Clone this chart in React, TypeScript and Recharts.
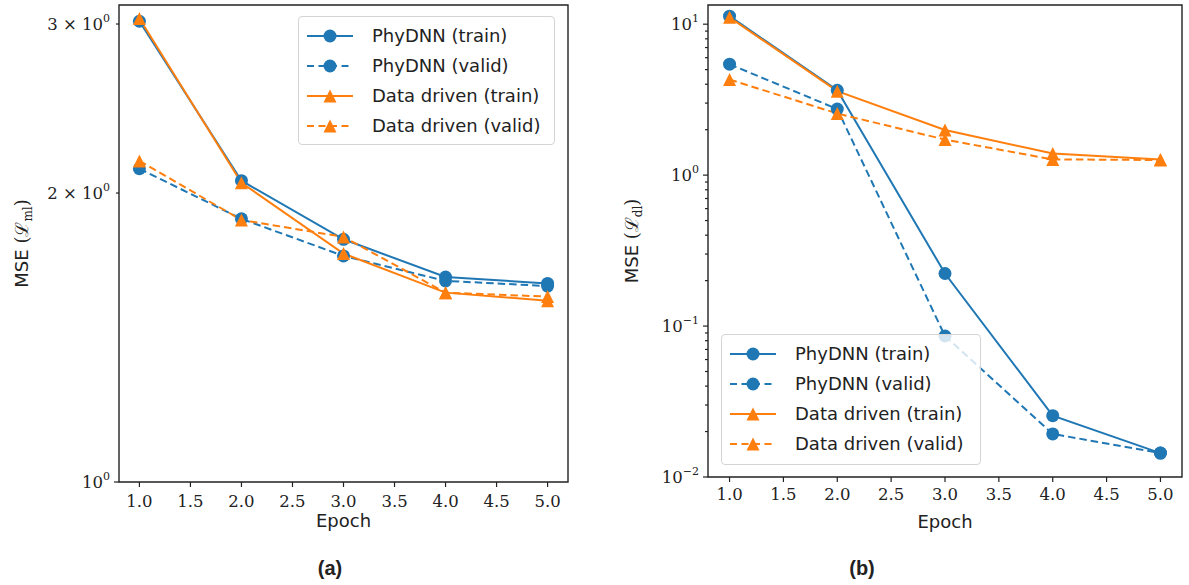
import React from 'react';
import { LineChart, Line, XAxis, YAxis, ReferenceArea, Legend } from 'recharts';

// ---------- data ----------
const epochs = [1, 2, 3, 4, 5];
const xTicks = [1, 1.5, 2, 2.5, 3, 3.5, 4, 4.5, 5];
const seriesNames = ['PhyDNN (train)', 'PhyDNN (valid)', 'Data driven (train)', 'Data driven (valid)'];

// (a) MSE (L_ml)
const mlPhyTrain = [3.02, 2.06, 1.79, 1.635, 1.61];
const mlPhyValid = [2.12, 1.88, 1.72, 1.62, 1.6];
const mlDataTrain = [3.04, 2.05, 1.73, 1.575, 1.545];
const mlDataValid = [2.16, 1.875, 1.8, 1.575, 1.56];

// (b) MSE (L_dl)
const dlPhyTrain = [11.3, 3.65, 0.223, 0.0255, 0.0144];
const dlPhyValid = [5.43, 2.74, 0.0859, 0.0193, 0.0144];
const dlDataTrain = [11.1, 3.6, 1.99, 1.39, 1.27];
const dlDataValid = [4.3, 2.56, 1.72, 1.27, 1.26];

// tick labels
const mlTickValues = [1, 2, 3];
const mlTickMantissa = ['', '2 × ', '3 × '];
const mlTickExponent = ['0', '0', '0'];
const mlMajorTicks = [1];

const dlMajorTicks = [0.01, 0.1, 1, 10];
const dlTickMantissa = ['', '', '', ''];
const dlTickExponent = ['−2', '−1', '0', '1'];
const dlMinorTicks = [
  0.02, 0.03, 0.04, 0.05, 0.06, 0.07, 0.08, 0.09,
  0.2, 0.3, 0.4, 0.5, 0.6, 0.7, 0.8, 0.9,
  2, 3, 4, 5, 6, 7, 8, 9,
];

const mlDomain: [number, number] = [1, 3.14];
const dlDomain: [number, number] = [0.01, 13.4];
const xDomain: [number, number] = [0.8, 5.2];

// ---------- styles ----------
const BLUE = '#1f77b4';
const ORANGE = '#ff7f0e';
const INK = '#222';
const keys = ['phyTrain', 'phyValid', 'dataTrain', 'dataValid'];
const colors = [BLUE, BLUE, ORANGE, ORANGE];
const dashes = [undefined, '7.5 4', undefined, '7.5 4'];
const markers = ['circle', 'circle', 'triangle', 'triangle'];

const buildRows = (a: number[], b: number[], c: number[], d: number[]) =>
  epochs.map((e, i) => ({ epoch: e, phyTrain: a[i], phyValid: b[i], dataTrain: c[i], dataValid: d[i] }));

const mlRows = buildRows(mlPhyTrain, mlPhyValid, mlDataTrain, mlDataValid);
const dlRows = buildRows(dlPhyTrain, dlPhyValid, dlDataTrain, dlDataValid);

const R = 6.5;
const Marker = ({ kind, cx, cy, color }: { kind: string; cx: number; cy: number; color: string }) =>
  kind === 'circle' ? (
    <circle cx={cx} cy={cy} r={R} fill={color} />
  ) : (
    <path d={`M${cx},${cy - R}L${cx - R},${cy + R}L${cx + R},${cy + R}Z`} fill={color} />
  );

const makeDot = (kind: string, color: string) => (props: any) => {
  const { cx, cy, index } = props;
  if (cx == null || cy == null) return <g key={`d-${index}`} />;
  return (
    <g key={`d-${index}`}>
      <Marker kind={kind} cx={cx} cy={cy} color={color} />
    </g>
  );
};

const makeYTick = (vals: number[], mant: string[], expo: string[], major: number[]) => (props: any) => {
  const { x, y, payload } = props;
  const v = payload.value;
  const idx = vals.indexOf(v);
  const len = major.indexOf(v) >= 0 ? 5 : 3;
  return (
    <g>
      <line x1={x} x2={x - len} y1={y} y2={y} stroke={INK} strokeWidth={1.2} />
      {idx >= 0 && (
        <text x={x - 9} y={y} dy="0.36em" textAnchor="end" fontFamily="DejaVu Serif" fontSize={16.5} fill={INK}>
          {mant[idx]}10
          <tspan dy={-8} fontSize={11}>{expo[idx]}</tspan>
        </text>
      )}
    </g>
  );
};

const yLabel = (sub: string) => (props: any) => {
  const vb = props.viewBox || { x: 0, y: 0, width: 0, height: 0 };
  const cx = vb.x + 4;
  const cy = vb.y + vb.height / 2;
  return (
    <text
      transform={`rotate(-90 ${cx} ${cy})`}
      x={cx}
      y={cy}
      dy="0.35em"
      textAnchor="middle"
      fontSize={18}
      fill={INK}
      fontFamily="DejaVu Sans"
    >
      MSE{' '}
      <tspan fontFamily="DejaVu Serif">(</tspan>
      <tspan fontFamily="DejaVu Serif">ℒ</tspan>
      <tspan fontFamily="DejaVu Serif" fontSize={12} dy={4}>{sub}</tspan>
      <tspan fontFamily="DejaVu Serif" dy={-4}>)</tspan>
    </text>
  );
};

const xLabel = (offset: number) => (props: any) => {
  const vb = props.viewBox || { x: 0, y: 0, width: 0, height: 0 };
  return (
    <text
      x={vb.x + vb.width / 2}
      y={vb.y + offset}
      dy="0.35em"
      textAnchor="middle"
      fontSize={18}
      fill={INK}
      fontFamily="DejaVu Sans"
    >
      Epoch
    </text>
  );
};

const LegendBox = () => (
  <div
    style={{
      width: '100%',
      height: '100%',
      boxSizing: 'border-box',
      border: '1px solid #d4d4d4',
      borderRadius: 4,
      background: 'rgba(255,255,255,0.8)',
      paddingTop: 4,
    }}
  >
    {seriesNames.map((name, i) => (
      <div key={name} style={{ height: 30, display: 'flex', alignItems: 'center' }}>
        <svg width={46} height={16} style={{ marginLeft: 8, flex: 'none' }}>
          <line x1={0} x2={46} y1={8} y2={8} stroke={colors[i]} strokeWidth={2} strokeDasharray={dashes[i] ? '7 4.5' : undefined} />
          <Marker kind={markers[i]} cx={23} cy={8} color={colors[i]} />
        </svg>
        <span
          style={{
            marginLeft: 19,
            fontFamily: 'DejaVu Sans',
            fontSize: 18,
            color: INK,
            whiteSpace: 'nowrap',
            lineHeight: '20px',
          }}
        >
          {name}
        </span>
      </div>
    ))}
  </div>
);

type PanelProps = {
  width: number;
  rows: any[];
  domain: [number, number];
  yTicks: number[];
  yTick: (p: any) => any;
  margin: { top: number; right: number; bottom: number; left: number };
  yWidth: number;
  sub: string;
  xLabelOffset: number;
  xTickMargin: number;
  legend: { left: number; top: number; width: number; height: number };
};

const Panel = (p: PanelProps) => (
  <LineChart width={p.width} height={585} data={p.rows} margin={p.margin}>
    <XAxis
      dataKey="epoch"
      type="number"
      domain={xDomain}
      allowDataOverflow
      ticks={xTicks}
      interval={0}
      tickFormatter={(v: number) => v.toFixed(1)}
      axisLine={false}
      tickLine={{ stroke: INK, strokeWidth: 1.2 }}
      tickSize={5}
      tickMargin={p.xTickMargin}
      height={30}
      tick={{ fill: INK, fontFamily: 'DejaVu Serif', fontSize: 16.5 }}
      label={xLabel(p.xLabelOffset)}
    />
    <YAxis
      type="number"
      scale="log"
      domain={p.domain}
      allowDataOverflow
      ticks={p.yTicks}
      interval={0}
      axisLine={false}
      tickLine={false}
      tickSize={0}
      tickMargin={0}
      width={p.yWidth}
      tick={p.yTick}
      label={yLabel(p.sub)}
    />
    <ReferenceArea
      x1={xDomain[0]}
      x2={xDomain[1]}
      y1={p.domain[0]}
      y2={p.domain[1]}
      fill="none"
      fillOpacity={0}
      stroke={INK}
      strokeWidth={1.4}
      ifOverflow="visible"
    />
    {keys.map((k, i) => (
      <Line
        key={k}
        dataKey={k}
        type="linear"
        stroke={colors[i]}
        strokeWidth={2}
        strokeDasharray={dashes[i]}
        dot={makeDot(markers[i], colors[i])}
        activeDot={false}
        isAnimationActive={false}
        name={seriesNames[i]}
      />
    ))}
    <Legend
      layout="vertical"
      align="center"
      verticalAlign="middle"
      wrapperStyle={{ left: p.legend.left, top: p.legend.top, width: p.legend.width, height: p.legend.height }}
      content={() => <LegendBox />}
    />
  </LineChart>
);

const mlYTick = makeYTick(mlTickValues, mlTickMantissa, mlTickExponent, mlMajorTicks);
const dlYTick = makeYTick(dlMajorTicks, dlTickMantissa, dlTickExponent, dlMajorTicks);
const dlAllTicks = [...dlMajorTicks, ...dlMinorTicks].sort((a, b) => a - b);

const captionStyle: React.CSSProperties = {
  position: 'absolute',
  top: 555,
  width: 60,
  textAlign: 'center',
  fontFamily: 'Liberation Sans',
  fontWeight: 'bold',
  fontSize: 20,
  lineHeight: '26px',
  color: INK,
};

export default function App() {
  return (
    <div style={{ position: 'absolute', left: 0, top: 0, width: 1189, height: 585, background: '#fff', overflow: 'hidden' }}>
      <div style={{ position: 'absolute', left: 0, top: 0 }}>
        <Panel
          width={600}
          rows={mlRows}
          domain={mlDomain}
          yTicks={mlTickValues}
          yTick={mlYTick}
          margin={{ top: 5, right: 32, bottom: 73, left: 18 }}
          yWidth={101}
          sub="ml"
          xLabelOffset={39}
          xTickMargin={8}
          legend={{ left: 298, top: 16, width: 257, height: 129 }}
        />
      </div>
      <div style={{ position: 'absolute', left: 600, top: 0 }}>
        <Panel
          width={589}
          rows={dlRows}
          domain={dlDomain}
          yTicks={dlAllTicks}
          yTick={dlYTick}
          margin={{ top: 5, right: 7, bottom: 78, left: 28 }}
          yWidth={80}
          sub="dl"
          xLabelOffset={45}
          xTickMargin={6}
          legend={{ left: 121, top: 334, width: 260, height: 131 }}
        />
      </div>
      <div style={{ ...captionStyle, left: 300 }}>(a)</div>
      <div style={{ ...captionStyle, left: 832 }}>(b)</div>
    </div>
  );
}
